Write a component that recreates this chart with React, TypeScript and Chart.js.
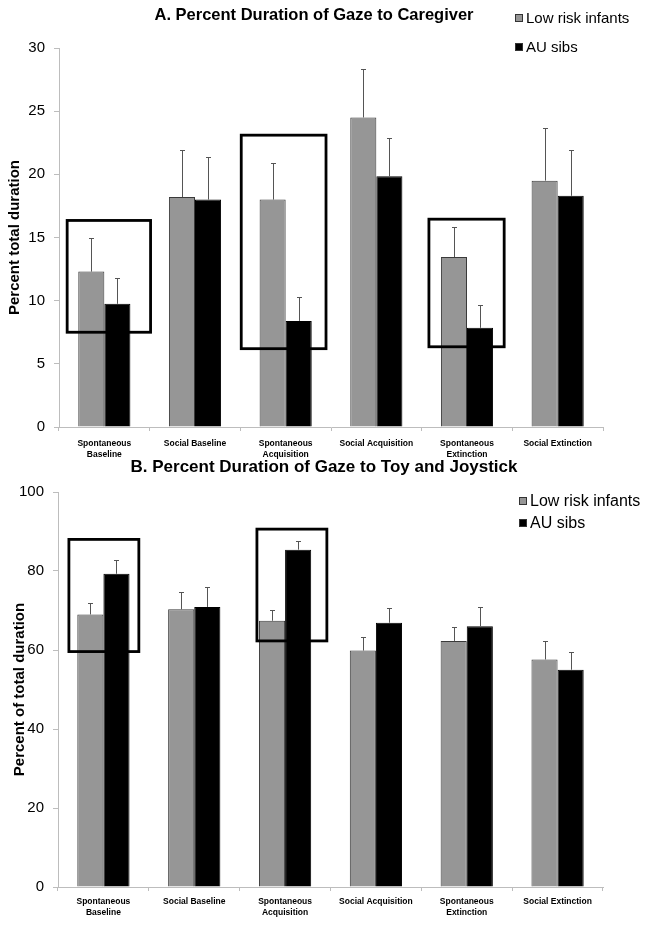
import React, { useEffect, useRef } from 'react';
import { Chart, registerables } from 'chart.js';

Chart.register(...registerables);

// ---------- data ----------
const categories: string[][] = [
  ['Spontaneous', 'Baseline'],
  ['Social Baseline'],
  ['Spontaneous', 'Acquisition'],
  ['Social Acquisition'],
  ['Spontaneous', 'Extinction'],
  ['Social Extinction'],
];
const seriesNames = ['Low risk infants', 'AU sibs'];
const seriesColors = ['#969696', '#000000'];

// Panel A: Percent Duration of Gaze to Caregiver
const titleA = 'A. Percent Duration of Gaze to Caregiver';
const yTitleA = 'Percent total duration';
const caregiverLowRisk = [12.3, 18.2, 18.0, 24.5, 13.45, 19.5];
const caregiverLowRiskErr = [2.7, 3.7, 2.9, 3.8, 2.4, 4.2];
const caregiverAU = [9.75, 18.0, 8.4, 19.85, 7.85, 18.3];
const caregiverAUErr = [2.05, 3.4, 1.9, 3.05, 1.8, 3.6];
const caregiverTicks = [0, 5, 10, 15, 20, 25, 30];
// highlight boxes: category index, offsets in category units, y range in data units
const caregiverBoxes = [
  { cat: 0, from: -0.41, to: 0.51, low: 7.5, high: 16.35 },
  { cat: 2, from: -0.49, to: 0.445, low: 6.2, high: 23.1 },
  { cat: 4, from: -0.42, to: 0.41, low: 6.35, high: 16.45 },
];

// Panel B: Percent Duration of Gaze to Toy and Joystick
const titleB = 'B. Percent Duration of Gaze to Toy and Joystick';
const yTitleB = 'Percent of total duration';
const toyLowRisk = [69.0, 70.3, 67.4, 59.85, 62.3, 57.6];
const toyLowRiskErr = [2.9, 4.4, 2.8, 3.55, 3.6, 4.7];
const toyAU = [79.3, 70.9, 85.4, 66.9, 66.0, 55.0];
const toyAUErr = [3.6, 5.0, 2.3, 3.8, 4.9, 4.6];
const toyTicks = [0, 20, 40, 60, 80, 100];
const toyBoxes = [
  { cat: 0, from: -0.38, to: 0.39, low: 59.6, high: 88.0 },
  { cat: 2, from: -0.31, to: 0.46, low: 62.3, high: 90.6 },
];

const FONT = '"Liberation Sans", Arial, sans-serif';

const decorPlugin = {
  id: 'decor',
  afterDatasetsDraw(chart: any, _args: any, opts: any) {
    const ctx = chart.ctx;
    const xs = chart.scales.x;
    const ys = chart.scales.y;
    ctx.save();
    // error bars (upper only)
    chart.data.datasets.forEach((ds: any, i: number) => {
      const meta = chart.getDatasetMeta(i);
      const errs: number[] = opts.errors[i];
      meta.data.forEach((bar: any, j: number) => {
        const v = ds.data[j];
        const top = ys.getPixelForValue(v + errs[j]);
        const bx = Math.round(bar.x) + 0.5;
        const by = bar.y;
        const ty = Math.round(top) + 0.5;
        ctx.strokeStyle = '#555';
        ctx.lineWidth = 1;
        ctx.beginPath();
        ctx.moveTo(bx, by);
        ctx.lineTo(bx, ty);
        ctx.moveTo(bx - 2.5, ty);
        ctx.lineTo(bx + 2.5, ty);
        ctx.stroke();
      });
    });
    // highlight boxes
    ctx.strokeStyle = '#000';
    ctx.lineWidth = 2.8;
    opts.boxes.forEach((b: any) => {
      const l = xs.getPixelForValue(b.cat + b.from);
      const r = xs.getPixelForValue(b.cat + b.to);
      const t = ys.getPixelForValue(b.high);
      const btm = ys.getPixelForValue(b.low);
      ctx.strokeRect(l, t, r - l, btm - t);
    });
    ctx.restore();
  },
  afterDraw(chart: any, _args: any, opts: any) {
    const ctx = chart.ctx;
    ctx.save();
    // title
    ctx.fillStyle = '#000';
    ctx.font = `bold ${opts.titleSize}px ${FONT}`;
    ctx.textAlign = 'center';
    ctx.textBaseline = 'middle';
    ctx.fillText(opts.title, opts.titleX, opts.titleY);
    // legend
    ctx.textAlign = 'left';
    ctx.font = `${opts.legendSize}px ${FONT}`;
    chart.data.datasets.forEach((ds: any, i: number) => {
      const ly = opts.legendY[i];
      const sq = opts.legendBox;
      ctx.fillStyle = ds.backgroundColor;
      ctx.fillRect(opts.legendX, ly - sq / 2, sq, sq);
      ctx.strokeStyle = '#333';
      ctx.lineWidth = 1;
      ctx.strokeRect(opts.legendX + 0.5, ly - sq / 2 + 0.5, sq - 1, sq - 1);
      ctx.fillStyle = '#000';
      ctx.fillText(ds.label, opts.legendX + sq + 3, ly + 1);
    });
    ctx.restore();
  },
};

interface PanelProps {
  width: number;
  height: number;
  low: number[];
  lowErr: number[];
  au: number[];
  auErr: number[];
  ticks: number[];
  boxes: any[];
  title: string;
  yTitle: string;
  layout: {
    plotTop: number;
    plotBottom: number;
    yWidth: number;
    right: number;
    titleX: number;
    titleY: number;
    titleSize: number;
    legendX: number;
    legendY: number[];
    legendSize: number;
    tickSize: number;
    yTitlePad: number;
    xTickPad: number;
  };
}

function Panel(p: PanelProps) {
  const ref = useRef<HTMLCanvasElement | null>(null);
  useEffect(() => {
    if (!ref.current) return;
    const L = p.layout;
    const step = p.ticks[1] - p.ticks[0];
    const chart = new Chart(ref.current, {
      type: 'bar',
      data: {
        labels: categories,
        datasets: [
          {
            label: seriesNames[0],
            data: p.low,
            backgroundColor: seriesColors[0],
            borderColor: '#3a3a3a',
            borderWidth: 1,
            categoryPercentage: 0.575,
            barPercentage: 1,
          },
          {
            label: seriesNames[1],
            data: p.au,
            backgroundColor: seriesColors[1],
            borderColor: '#000',
            borderWidth: 1,
            categoryPercentage: 0.575,
            barPercentage: 1,
          },
        ],
      },
      options: {
        animation: false,
        responsive: false,
        devicePixelRatio: 1,
        layout: { padding: { top: L.plotTop, right: p.width - L.right, left: 0, bottom: 0 } },
        plugins: {
          legend: { display: false },
          title: { display: false },
          tooltip: { enabled: false },
          decor: {
            errors: [p.lowErr, p.auErr],
            boxes: p.boxes,
            title: p.title,
            titleX: L.titleX,
            titleY: L.titleY,
            titleSize: L.titleSize,
            legendX: L.legendX,
            legendY: L.legendY,
            legendSize: L.legendSize,
            legendBox: 8,
          },
        } as any,
        scales: {
          x: {
            grid: { display: true, drawOnChartArea: false, drawTicks: true, tickLength: 4, color: '#bdbdbd', offset: true },
            border: { display: true, color: '#bdbdbd', width: 1 },
            ticks: {
              color: '#000',
              font: { family: FONT, size: 8.5, weight: 'bold', lineHeight: 1.3 },
              maxRotation: 0,
              minRotation: 0,
              autoSkip: false,
              padding: L.xTickPad,
            },
            afterFit: (s: any) => {
              s.height = p.height - L.plotBottom;
            },
          },
          y: {
            min: p.ticks[0],
            max: p.ticks[p.ticks.length - 1],
            grid: { display: true, drawOnChartArea: false, drawTicks: true, tickLength: 5, color: '#bdbdbd' },
            border: { display: true, color: '#bdbdbd', width: 1 },
            ticks: {
              stepSize: step,
              color: '#000',
              font: { family: FONT, size: L.tickSize },
              padding: 9,
            },
            title: {
              display: true,
              text: p.yTitle,
              color: '#000',
              font: { family: FONT, size: 15, weight: 'bold', lineHeight: 1.2 },
              padding: { top: L.yTitlePad, bottom: 0 },
            },
            afterFit: (s: any) => {
              s.width = L.yWidth;
            },
          },
        },
      },
      plugins: [decorPlugin as any],
    });
    return () => chart.destroy();
  }, []);
  return <canvas ref={ref} width={p.width} height={p.height} style={{ display: 'block', width: p.width, height: p.height }} />;
}

export default function App() {
  return (
    <div style={{ position: 'absolute', left: 0, top: 0, width: 654, height: 926, background: '#fff' }}>
      <div style={{ position: 'absolute', left: 0, top: 0 }}>
        <Panel
          width={654}
          height={462}
          low={caregiverLowRisk}
          lowErr={caregiverLowRiskErr}
          au={caregiverAU}
          auErr={caregiverAUErr}
          ticks={caregiverTicks}
          boxes={caregiverBoxes}
          title={titleA}
          yTitle={yTitleA}
          layout={{
            plotTop: 48,
            plotBottom: 427,
            yWidth: 59,
            right: 603,
            titleX: 314,
            titleY: 15,
            titleSize: 16.5,
            legendX: 515,
            legendY: [18, 47],
            legendSize: 15,
            tickSize: 15,
            yTitlePad: 6,
            xTickPad: 7,
          }}
        />
      </div>
      <div style={{ position: 'absolute', left: 0, top: 448 }}>
        <Panel
          width={654}
          height={478}
          low={toyLowRisk}
          lowErr={toyLowRiskErr}
          au={toyAU}
          auErr={toyAUErr}
          ticks={toyTicks}
          boxes={toyBoxes}
          title={titleB}
          yTitle={yTitleB}
          layout={{
            plotTop: 44,
            plotBottom: 439,
            yWidth: 58,
            right: 603,
            titleX: 324,
            titleY: 19,
            titleSize: 17,
            legendX: 519,
            legendY: [53, 75],
            legendSize: 16,
            tickSize: 15,
            yTitlePad: 11,
            xTickPad: 5,
          }}
        />
      </div>
    </div>
  );
}
